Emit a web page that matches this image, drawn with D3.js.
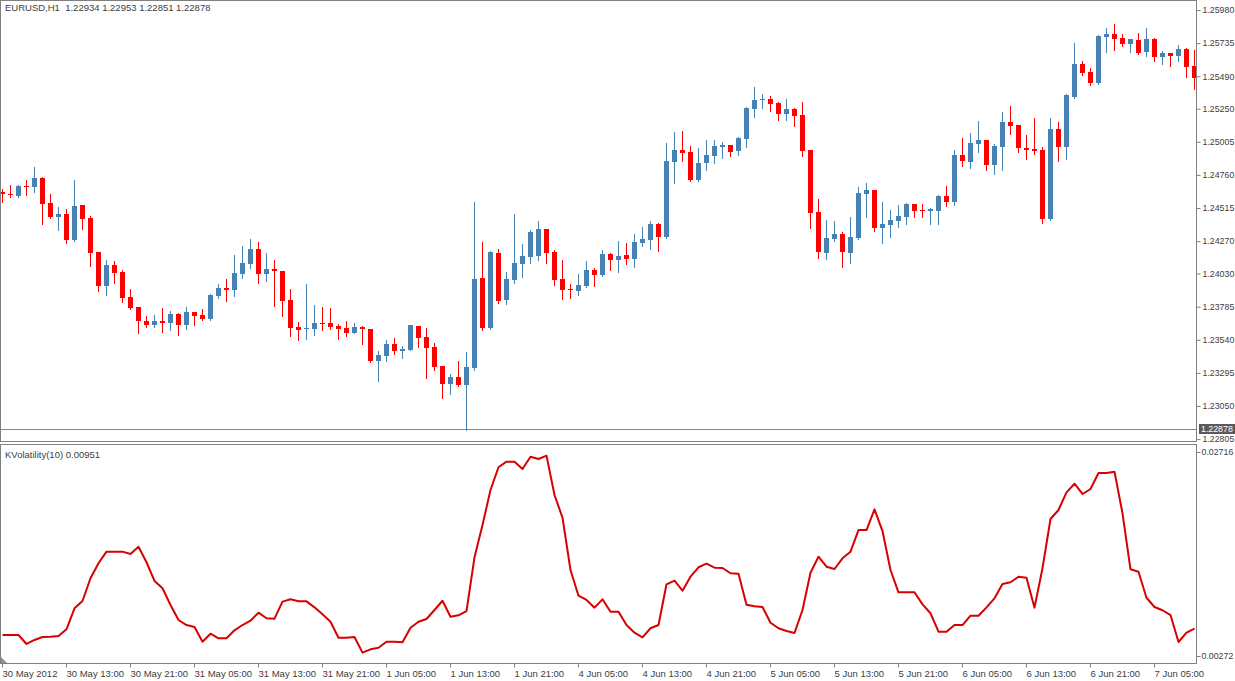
<!DOCTYPE html>
<html>
<head>
<meta charset="utf-8">
<title>EURUSD H1</title>
<style>
  html, body { margin: 0; padding: 0; background: #fff; }
  svg { display: block; }
  text { font-family: "Liberation Sans", Arial, sans-serif; font-size: 9.5px; fill: #404040; }
</style>
</head>
<body>
<svg id="svg" width="1235" height="681"></svg>
<script src="https://d3js.org/d3.v7.min.js"></script>
<script>
// EURUSD H1 bars, 30 May 2012 05:00 onward
const opens = [
  1.24633,1.24618,1.24604,1.24678,1.24670,1.24737,1.24552,1.24448,1.24470,1.24278,
  1.24537,1.24441,1.24189,1.23938,1.24093,1.24041,1.23856,1.23782,1.23679,1.23649,
  1.23679,1.23664,1.23730,1.23649,1.23745,1.23723,1.23693,1.23864,1.23923,1.23908,
  1.24026,1.24100,1.24211,1.24026,1.24063,1.24049,1.23834,1.23634,1.23619,1.23619,
  1.23664,1.23664,1.23642,1.23627,1.23590,1.23634,1.23619,1.23383,1.23420,1.23508,
  1.23457,1.23464,1.23642,1.23560,1.23486,1.23346,1.23212,1.23264,1.23205,1.23331,
  1.23997,1.23627,1.24182,1.23834,1.23982,1.24100,1.24152,1.24160,1.24359,1.24189,
  1.23989,1.23915,1.23901,1.23938,1.24056,1.24019,1.24174,1.24130,1.24167,1.24137,
  1.24256,1.24278,1.24396,1.24300,1.24855,1.24944,1.24929,1.24722,1.24848,1.24900,
  1.24966,1.24981,1.24937,1.25025,1.25247,1.25314,1.25321,1.25292,1.25210,1.25247,
  1.25203,1.24944,1.24485,1.24182,1.24285,1.24322,1.24182,1.24293,1.24618,1.24648,
  1.24367,1.24389,1.24419,1.24448,1.24544,1.24500,1.24493,1.24493,1.24604,1.24559,
  1.24907,1.24855,1.24988,1.25018,1.24833,1.24966,1.25151,1.25129,1.24959,1.24951,
  1.24944,1.24433,1.25099,1.24966,1.25336,1.25580,1.25521,1.25440,1.25780,1.25802,
  1.25773,1.25728,1.25758,1.25669,1.25765,1.25632,1.25662,1.25640,1.25691,1.25566
]
const highs = [
  1.24655,1.24685,1.24685,1.24722,1.24818,1.24744,1.24618,1.24522,1.24507,1.24722,
  1.24537,1.24456,1.24189,1.24130,1.24123,1.24056,1.23915,1.23782,1.23716,1.23723,
  1.23775,1.23753,1.23738,1.23782,1.23745,1.23767,1.23878,1.23952,1.23989,1.24167,
  1.24234,1.24285,1.24263,1.24182,1.24130,1.24049,1.23915,1.23671,1.23952,1.23797,
  1.23782,1.23775,1.23656,1.23679,1.23664,1.23642,1.23619,1.23457,1.23538,1.23553,
  1.23494,1.23649,1.23642,1.23627,1.23516,1.23346,1.23286,1.23383,1.23449,1.24559,
  1.24263,1.24197,1.24211,1.24041,1.24470,1.24248,1.24352,1.24419,1.24359,1.24204,
  1.24130,1.23952,1.24026,1.24123,1.24071,1.24204,1.24182,1.24271,1.24256,1.24322,
  1.24374,1.24419,1.24404,1.24996,1.25077,1.25085,1.24974,1.24959,1.25018,1.25018,
  1.25003,1.24981,1.25040,1.25262,1.25410,1.25358,1.25343,1.25299,1.25321,1.25255,
  1.25299,1.24944,1.24581,1.24426,1.24419,1.24337,1.24448,1.24670,1.24700,1.24648,
  1.24559,1.24500,1.24537,1.24552,1.24544,1.24544,1.24515,1.24611,1.24678,1.24944,
  1.25033,1.25070,1.25159,1.25018,1.24988,1.25225,1.25270,1.25129,1.25055,1.25181,
  1.24966,1.25181,1.25151,1.25358,1.25736,1.25603,1.25551,1.25795,1.25847,1.25876,
  1.25802,1.25765,1.25810,1.25847,1.25773,1.25677,1.25662,1.25721,1.25699,1.25684
]
const lows = [
  1.24559,1.24596,1.24596,1.24611,1.24633,1.24396,1.24441,1.24352,1.24256,1.24271,
  1.24359,1.24086,1.23901,1.23871,1.23960,1.23819,1.23767,1.23590,1.23634,1.23634,
  1.23597,1.23612,1.23575,1.23619,1.23649,1.23690,1.23690,1.23849,1.23827,1.23864,
  1.23997,1.24071,1.23960,1.23975,1.23790,1.23716,1.23568,1.23538,1.23545,1.23575,
  1.23612,1.23619,1.23545,1.23568,1.23587,1.23508,1.23375,1.23235,1.23383,1.23434,
  1.23405,1.23464,1.23486,1.23257,1.23316,1.23109,1.23138,1.23198,1.22872,1.23316,
  1.23612,1.23620,1.23812,1.23804,1.23960,1.24004,1.24108,1.24130,1.24108,1.23945,
  1.23841,1.23849,1.23871,1.23930,1.23938,1.24011,1.24056,1.24041,1.24100,1.24078,
  1.24234,1.24211,1.24197,1.24293,1.24700,1.24863,1.24715,1.24715,1.24796,1.24848,
  1.24885,1.24900,1.24907,1.24966,1.25188,1.25255,1.25233,1.25166,1.25166,1.25122,
  1.24900,1.24367,1.24145,1.24137,1.24271,1.24078,1.24108,1.24285,1.24448,1.24345,
  1.24256,1.24300,1.24374,1.24396,1.24448,1.24448,1.24396,1.24396,1.24530,1.24537,
  1.24826,1.24811,1.24929,1.24796,1.24766,1.24796,1.25062,1.24929,1.24878,1.24915,
  1.24404,1.24426,1.24863,1.24878,1.25329,1.25499,1.25425,1.25432,1.25669,1.25684,
  1.25714,1.25669,1.25654,1.25640,1.25603,1.25580,1.25566,1.25603,1.25484,1.25395
]
const closes = [
  1.24618,1.24611,1.24678,1.24670,1.24737,1.24544,1.24448,1.24470,1.24278,1.24530,
  1.24433,1.24182,1.23938,1.24093,1.24034,1.23849,1.23775,1.23679,1.23649,1.23679,
  1.23664,1.23730,1.23649,1.23745,1.23716,1.23693,1.23871,1.23923,1.23908,1.24034,
  1.24108,1.24211,1.24026,1.24063,1.24049,1.23827,1.23627,1.23612,1.23627,1.23664,
  1.23656,1.23634,1.23619,1.23590,1.23634,1.23619,1.23383,1.23427,1.23508,1.23457,
  1.23471,1.23649,1.23553,1.23479,1.23338,1.23212,1.23264,1.23205,1.23338,1.23989,
  1.23627,1.24189,1.23827,1.23989,1.24108,1.24160,1.24337,1.24359,1.24182,1.23982,
  1.23908,1.23905,1.23945,1.24056,1.24019,1.24174,1.24130,1.24160,1.24137,1.24263,
  1.24285,1.24396,1.24300,1.24863,1.24944,1.24922,1.24722,1.24848,1.24907,1.24974,
  1.24981,1.24929,1.25033,1.25255,1.25314,1.25321,1.25284,1.25210,1.25247,1.25196,
  1.24937,1.24478,1.24189,1.24293,1.24322,1.24189,1.24300,1.24626,1.24648,1.24367,
  1.24396,1.24426,1.24456,1.24544,1.24493,1.24490,1.24507,1.24604,1.24559,1.24907,
  1.24863,1.24996,1.25018,1.24833,1.24974,1.25151,1.25122,1.24959,1.24944,1.24937,
  1.24433,1.25099,1.24966,1.25351,1.25580,1.25514,1.25440,1.25788,1.25802,1.25765,
  1.25728,1.25765,1.25662,1.25765,1.25632,1.25662,1.25640,1.25691,1.25558,1.25477
]
// KVolatility(10) per bar
const kvol = [
  0.00524,0.00524,0.00524,0.00416,0.00464,0.00500,0.00503,0.00512,0.00592,0.00843,
  0.00931,0.01203,0.01383,0.01522,0.01522,0.01522,0.01494,0.01581,0.01395,0.01171,
  0.01083,0.00883,0.00703,0.00643,0.00619,0.00443,0.00539,0.00484,0.00484,0.00580,
  0.00643,0.00695,0.00791,0.00724,0.00719,0.00923,0.00951,0.00927,0.00927,0.00855,
  0.00772,0.00683,0.00491,0.00491,0.00500,0.00312,0.00352,0.00371,0.00443,0.00443,
  0.00436,0.00611,0.00683,0.00715,0.00823,0.00934,0.00743,0.00760,0.00811,0.01454,
  0.01841,0.02261,0.02533,0.02600,0.02600,0.02512,0.02660,0.02632,0.02672,0.02201,
  0.01929,0.01302,0.00994,0.00943,0.00851,0.00951,0.00803,0.00803,0.00643,0.00551,
  0.00496,0.00604,0.00643,0.01131,0.01174,0.01054,0.01222,0.01335,0.01378,0.01330,
  0.01326,0.01263,0.01258,0.00887,0.00867,0.00859,0.00671,0.00604,0.00572,0.00548,
  0.00823,0.01270,0.01462,0.01342,0.01314,0.01442,0.01522,0.01781,0.01781,0.02029,
  0.01769,0.01302,0.01035,0.01035,0.01035,0.00891,0.00784,0.00563,0.00563,0.00643,
  0.00643,0.00755,0.00755,0.00855,0.00963,0.01135,0.01155,0.01222,0.01210,0.00851,
  0.01323,0.01913,0.02021,0.02233,0.02336,0.02213,0.02273,0.02464,0.02464,0.02480,
  0.01982,0.01311,0.01282,0.00970,0.00859,0.00820,0.00763,0.00440,0.00551,0.00599
]
// one label every 8 bars
const timeLabels = [
  '30 May 2012','30 May 13:00','30 May 21:00','31 May 05:00','31 May 13:00',
  '31 May 21:00','1 Jun 05:00','1 Jun 13:00','1 Jun 21:00','4 Jun 05:00',
  '4 Jun 13:00','4 Jun 21:00','5 Jun 05:00','5 Jun 13:00','5 Jun 21:00',
  '6 Jun 05:00','6 Jun 13:00','6 Jun 21:00','7 Jun 05:00'
]
const priceTicks = [1.25980,1.25735,1.25490,1.25250,1.25005,1.24760,1.24515,
  1.24270,1.24030,1.23785,1.23540,1.23295,1.23050,1.22805]
const volTicks = [0.02716, 0.00272]
const bidPrice = 1.22878
const header = 'EURUSD,H1  1.22934 1.22953 1.22851 1.22878'
const indName = 'KVolatility(10) 0.00951'

const bullColor = '#4682b4'
const bearColor = '#ff0000'
const frameColor = '#808080'
const axisFont = '8.8px'
const fontFamily = '"Liberation Sans", Arial, sans-serif'

const svg = d3.select('#svg')
const paneRight = 1196
const main = { top: 1, bottom: 441 }
const sub = { top: 444, bottom: 663 }

const bars = opens.map((o, i) => ({ i, o, h: highs[i], l: lows[i], c: closes[i] }))

const xscale = d3.scaleLinear().domain([0, bars.length - 1]).range([2.5, 2.5 + 8 * (bars.length - 1)])
const yprice = d3.scaleLinear().domain([1.22791, 1.26047]).range([main.bottom, main.top])
const yvol = d3.scaleLinear().domain([0.00272, 0.02716]).range([656, 452])

// frames
svg.append('rect').attr('x', 0.5).attr('y', main.top - 0.5)
  .attr('width', paneRight).attr('height', main.bottom - main.top + 1)
  .attr('fill', 'none').attr('stroke', frameColor)
svg.append('rect').attr('x', 0.5).attr('y', sub.top + 0.5)
  .attr('width', paneRight).attr('height', sub.bottom - sub.top)
  .attr('fill', 'none').attr('stroke', frameColor)

svg.append('clipPath').attr('id', 'clipMain').append('rect')
  .attr('x', 1).attr('y', main.top).attr('width', paneRight - 1).attr('height', main.bottom - main.top)

// bid line
svg.append('line')
  .attr('x1', 1).attr('x2', paneRight)
  .attr('y1', Math.round(yprice(bidPrice)) + 0.5).attr('y2', Math.round(yprice(bidPrice)) + 0.5)
  .attr('stroke', '#778899')

// candles
const candles = svg.append('g').attr('clip-path', 'url(#clipMain)').attr('shape-rendering', 'crispEdges')
const cg = candles.selectAll('g').data(bars).enter().append('g')
  .attr('fill', d => d.c >= d.o ? bullColor : bearColor)
  .attr('stroke', d => d.c >= d.o ? bullColor : bearColor)

cg.append('line')
  .attr('x1', d => Math.floor(xscale(d.i)) + 0.5)
  .attr('x2', d => Math.floor(xscale(d.i)) + 0.5)
  .attr('y1', d => Math.round(yprice(d.h)))
  .attr('y2', d => Math.round(yprice(d.l)) + 1)

cg.append('rect')
  .attr('stroke', 'none')
  .attr('x', d => Math.floor(xscale(d.i)) - 2)
  .attr('width', 5)
  .attr('y', d => Math.round(yprice(Math.max(d.o, d.c))))
  .attr('height', d => Math.max(1, Math.round(yprice(Math.min(d.o, d.c))) - Math.round(yprice(Math.max(d.o, d.c)))))

// price axis
const priceAxis = d3.axisRight(yprice).tickValues(priceTicks).tickSize(4).tickPadding(2)
  .tickFormat(d3.format('.5f'))
const pa = svg.append('g').attr('transform', `translate(${paneRight + 0.5},0)`).call(priceAxis)
pa.select('.domain').remove()
pa.selectAll('line').attr('stroke', frameColor)
pa.selectAll('text').attr('fill', '#404040').style('font-size', axisFont).style('font-family', fontFamily)

// bid label
const by = Math.round(yprice(bidPrice))
svg.append('rect').attr('x', 1199).attr('y', by - 5).attr('width', 36).attr('height', 10).attr('fill', '#5a5a5a')
svg.append('text').attr('x', 1201).attr('y', by).attr('dy', '0.34em')
  .style('fill', '#fff').style('font-size', axisFont).text(d3.format('.5f')(bidPrice))

// indicator line
const line = d3.line().x((d, i) => xscale(i)).y(d => yvol(d))
svg.append('path').datum(kvol)
  .attr('d', line)
  .attr('fill', 'none')
  .attr('stroke', '#d80000')
  .attr('stroke-width', 2)
  .attr('stroke-linejoin', 'round')

// indicator axis
const volAxis = d3.axisRight(yvol).tickValues(volTicks).tickSize(4).tickPadding(1)
  .tickFormat(d3.format('.5f'))
const va = svg.append('g').attr('transform', `translate(${paneRight + 0.5},0)`).call(volAxis)
va.select('.domain').remove()
va.selectAll('line').attr('stroke', frameColor)
va.selectAll('text').attr('fill', '#404040').style('font-size', axisFont).style('font-family', fontFamily)

// time axis
const timeAxis = d3.axisBottom(xscale)
  .tickValues(d3.range(0, bars.length, 8))
  .tickFormat((d, i) => timeLabels[i])
  .tickSize(4).tickPadding(3)
const ta = svg.append('g').attr('transform', `translate(-0.5,${sub.bottom + 0.5})`).call(timeAxis)
ta.select('.domain').remove()
ta.selectAll('line').attr('stroke', frameColor)
ta.selectAll('text').attr('text-anchor', 'start').attr('x', 0)
  .attr('fill', '#404040').style('font-size', '9.5px').style('font-family', fontFamily)

// shift marker
svg.append('path').attr('d', `M1,${sub.bottom - 6} L1,${sub.bottom} L7,${sub.bottom} Z`).attr('fill', '#909090')

// titles
svg.append('text').attr('x', 5).attr('y', 11).style('white-space', 'pre').text(header)
svg.append('text').attr('x', 5).attr('y', 458).text(indName)
</script>
</body>
</html>
